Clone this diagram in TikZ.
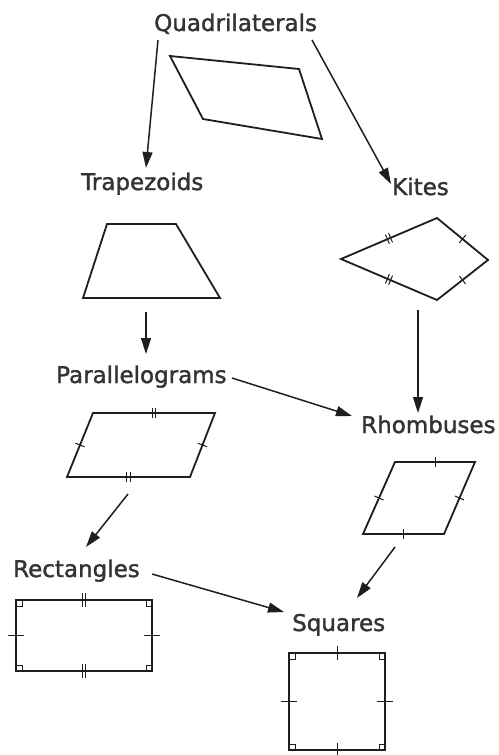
\documentclass[tikz,border=0pt]{standalone}
\usepackage{fontspec}
\setmainfont{DejaVu Sans}[FakeBold=1.5]
\usetikzlibrary{arrows.meta,calc}
\definecolor{ink}{HTML}{1E1E1E}
\definecolor{txt}{HTML}{333333}
% tick mark across segment #1--#2, shifted #3 along it, half length #4
\newcommand\tickat[4]{\draw[tickline] ($(#1)!0.5!(#2)!#3!(#2)!#4!90:(#2)$) -- ($(#1)!0.5!(#2)!#3!(#2)!#4!-90:(#2)$);}
\newcommand\onetick[3]{\tickat{#1}{#2}{0pt}{#3}}
\newcommand\twotick[3]{\tickat{#1}{#2}{-1.7pt}{#3}\tickat{#1}{#2}{1.7pt}{#3}}
\begin{document}
\begin{tikzpicture}[x=1pt,y=-1pt,
  lbl/.style={font=\fontsize{23}{26}\selectfont, text=txt, inner sep=0pt, anchor=base west},
  figline/.style={draw=ink, line width=1.8pt, line join=miter},
  arr/.style={draw=ink, line width=1.5pt, -{Triangle[length=16pt,width=10pt]}},
  tickline/.style={draw=ink, line width=1pt},
  rtm/.style={draw=ink, line width=0.9pt}]
\useasboundingbox (0,0) rectangle (498,755);
% labels
\node[lbl] (quad) at (154,31) {Quadrilaterals};
\node[lbl] (trap) at (81,190) {Trapezoids};
\node[lbl] (kite) at (392,195) {Kites};
\node[lbl] (para) at (56,383) {Parallelograms};
\node[lbl] (rhom) at (361,433) {Rhombuses};
\node[lbl] (rect) at (13,577) {Rectangles};
\node[lbl] (squa) at (292,631) {Squares};
% arrow end points
\coordinate (qa) at (158,40);  \coordinate (ta) at (146,168);
\coordinate (qb) at (312,40);  \coordinate (ka) at (391,184);
\coordinate (tb) at (146,312); \coordinate (pa) at (146,354);
\coordinate (kb) at (418,310); \coordinate (ra) at (418,413);
\coordinate (pb) at (232,378); \coordinate (rb) at (352,416);
\coordinate (pc) at (128,494); \coordinate (rc) at (86,547);
\coordinate (rd) at (395,547); \coordinate (sa) at (357,598);
\coordinate (re) at (152,574); \coordinate (sb) at (284,612);
\draw[arr] (qa) -- (ta);
\draw[arr] (qb) -- (ka);
\draw[arr] (tb) -- (pa);
\draw[arr] (kb) -- (ra);
\draw[arr] (pb) -- (rb);
\draw[arr] (pc) -- (rc);
\draw[arr] (rd) -- (sa);
\draw[arr] (re) -- (sb);
% general quadrilateral
\coordinate (q1) at (170,56); \coordinate (q2) at (299,69);
\coordinate (q3) at (322,139); \coordinate (q4) at (203,119);
\draw[figline] (q1) -- (q2) -- (q3) -- (q4) -- cycle;
% trapezoid
\coordinate (t1) at (107,224); \coordinate (t2) at (176,224);
\coordinate (t3) at (220,298); \coordinate (t4) at (83,298);
\draw[figline] (t1) -- (t2) -- (t3) -- (t4) -- cycle;
% kite
\coordinate (k1) at (341,259); \coordinate (k2) at (437,218);
\coordinate (k3) at (488,260); \coordinate (k4) at (437,300);
\draw[figline] (k1) -- (k2) -- (k3) -- (k4) -- cycle;
\twotick{k1}{k2}{5pt}\twotick{k1}{k4}{5pt}
\onetick{k2}{k3}{5pt}\onetick{k4}{k3}{5pt}
% parallelogram
\coordinate (p1) at (93,413); \coordinate (p2) at (215,413);
\coordinate (p3) at (190,477); \coordinate (p4) at (67,477);
\draw[figline] (p1) -- (p2) -- (p3) -- (p4) -- cycle;
\twotick{p1}{p2}{5pt}\twotick{p4}{p3}{5pt}
\onetick{p4}{p1}{5pt}\onetick{p3}{p2}{5pt}
% rhombus
\coordinate (h1) at (395,462); \coordinate (h2) at (475,462);
\coordinate (h3) at (444,534); \coordinate (h4) at (363,534);
\draw[figline] (h1) -- (h2) -- (h3) -- (h4) -- cycle;
\onetick{h1}{h2}{5pt}\onetick{h4}{h3}{5pt}
\onetick{h4}{h1}{5pt}\onetick{h3}{h2}{5pt}
% rectangle
\coordinate (r1) at (16,600); \coordinate (r2) at (152,600);
\coordinate (r3) at (152,671); \coordinate (r4) at (16,671);
\draw[figline] (r1) -- (r2) -- (r3) -- (r4) -- cycle;
\twotick{r1}{r2}{7pt}\twotick{r4}{r3}{7pt}
\onetick{r4}{r1}{8pt}\onetick{r3}{r2}{8pt}
\draw[rtm] ($(r1)+(6,0)$) -- ++(0,6) -- ++(-6,0);
\draw[rtm] ($(r2)+(-6,0)$) -- ++(0,6) -- ++(6,0);
\draw[rtm] ($(r3)+(-6,0)$) -- ++(0,-6) -- ++(6,0);
\draw[rtm] ($(r4)+(6,0)$) -- ++(0,-6) -- ++(-6,0);
% square
\coordinate (s1) at (289,653); \coordinate (s2) at (385,653);
\coordinate (s3) at (385,750); \coordinate (s4) at (289,750);
\draw[figline] (s1) -- (s2) -- (s3) -- (s4) -- cycle;
\onetick{s1}{s2}{7pt}\onetick{s4}{s3}{7pt}
\onetick{s4}{s1}{8pt}\onetick{s3}{s2}{8pt}
\draw[rtm] ($(s1)+(6,0)$) -- ++(0,6) -- ++(-6,0);
\draw[rtm] ($(s2)+(-6,0)$) -- ++(0,6) -- ++(6,0);
\draw[rtm] ($(s3)+(-6,0)$) -- ++(0,-6) -- ++(6,0);
\draw[rtm] ($(s4)+(6,0)$) -- ++(0,-6) -- ++(-6,0);
\end{tikzpicture}
\end{document}
